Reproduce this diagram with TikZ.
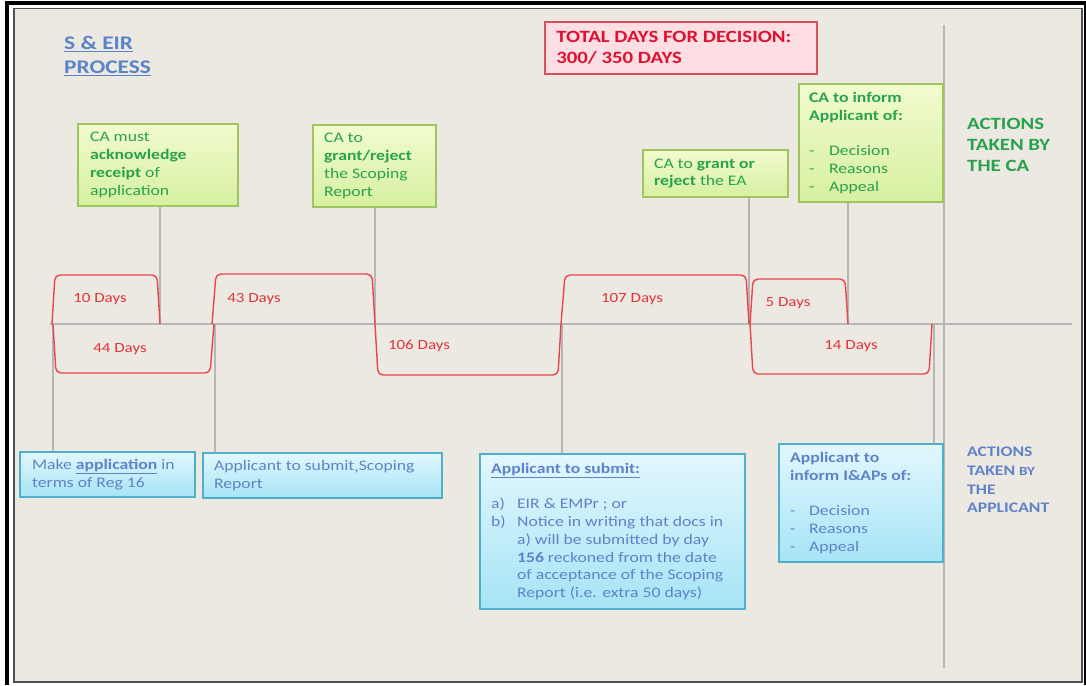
\documentclass[tikz,border=0pt]{standalone}
\usepackage{fontspec}
\usetikzlibrary{backgrounds}
\setmainfont{Carlito}[FakeStretch=1.21]
\definecolor{bg}{RGB}{236,233,226}
\definecolor{lgray}{RGB}{182,182,182}
\definecolor{rbr}{RGB}{232,70,76}
\definecolor{rtxt}{RGB}{228,52,58}
\definecolor{gborder}{RGB}{160,196,96}
\definecolor{gtop}{RGB}{242,251,206}
\definecolor{gbot}{RGB}{214,240,160}
\definecolor{gtxt}{RGB}{40,162,76}
\definecolor{bborder}{RGB}{80,176,204}
\definecolor{btop}{RGB}{226,247,253}
\definecolor{bbot}{RGB}{166,228,246}
\definecolor{btxt}{RGB}{96,130,200}
\definecolor{rfill}{RGB}{253,222,226}
\definecolor{rborder}{RGB}{214,82,92}
\definecolor{rtitle}{RGB}{226,16,48}
\definecolor{ttl}{RGB}{90,132,200}
\definecolor{frm}{RGB}{80,80,80}
\tikzset{
  gbox/.style={draw=gborder, line width=2.2pt, top color=gtop, bottom color=gbot, rectangle, inner sep=0pt},
  bbox/.style={draw=bborder, line width=2.2pt, top color=btop, bottom color=bbot, rectangle, inner sep=0pt},
  btxt/.style={anchor=west, align=left, inner sep=0pt, font=\fontsize{14.6}{17.8}\selectfont},
  vline/.style={draw=lgray, line width=2.6pt},
  brk/.style={draw=rbr, line width=1.4pt, rounded corners=5pt},
  dlab/.style={text=rtxt, inner sep=0pt, font=\fontsize{14}{16}\selectfont}
}
\begin{document}
\begin{tikzpicture}[x=1pt,y=-1pt]
\useasboundingbox (0,0) rectangle (1086,685);
\begin{scope}[on background layer]
\fill[white] (0,0) rectangle (1086,685);
\draw[black, line width=4pt] (6.5,685) -- (6.5,3.5) -- (1086,3.5);
\draw[black, line width=3pt] (1085,3.5) -- (1085,685);
\draw[fill=bg, draw=frm, line width=1.8pt] (14,8.5) rectangle (1082,682);
\end{scope}

% coordinates on the timeline
\coordinate (tl0) at (50,324);
\coordinate (tl1) at (1072,324);
\coordinate (tA) at (160,324);
\coordinate (tB) at (375,324);
\coordinate (tC) at (749,324);
\coordinate (tD) at (848,324);
\coordinate (tE) at (53,324);
\coordinate (tF) at (215,324);
\coordinate (tG) at (562,324);
\coordinate (tH) at (934,324);
\coordinate (vt) at (944,25);
\coordinate (vb) at (944,668);

% green boxes
\node[gbox, minimum width=160pt, minimum height=82pt] (g1) at (158,165) {};
\node[gbox, minimum width=123pt, minimum height=82pt] (g2) at (374.5,166) {};
\node[gbox, minimum width=145pt, minimum height=47pt] (g3) at (715.5,173.5) {};
\node[gbox, minimum width=144pt, minimum height=118pt] (g4) at (871,143) {};
% blue boxes
\node[bbox, minimum width=175pt, minimum height=45pt] (b1) at (107.5,474.5) {};
\node[bbox, minimum width=239pt, minimum height=45pt] (b2) at (322.5,475.5) {};
\node[bbox, minimum width=265pt, minimum height=155pt] (b3) at (612.5,531.5) {};
\node[bbox, minimum width=164pt, minimum height=118pt] (b4) at (861,503) {};

% lines (behind the boxes)
\begin{scope}[on background layer]
\draw[vline] (tl0) -- (tl1);
\draw[vline] (vt) -- (vb);
\draw[vline] (g1.south -| tA) -- (tA);
\draw[vline] (g2.south -| tB) -- (tB);
\draw[vline] (g3.south -| tC) -- (tC);
\draw[vline] (g4.south -| tD) -- (tD);
\draw[vline] (tE) -- (tE |- b1.north);
\draw[vline] (tF) -- (tF |- b2.north);
\draw[vline] (tG) -- (tG |- b3.north);
\draw[vline] (tH) -- (tH |- b4.north);
\end{scope}

% brackets above
\draw[brk] (52,324) -- (55,275) -- (157,275) -- (160,324);
\draw[brk] (212,324) -- (216,274) -- (372,274) -- (375,324);
\draw[brk] (561,324) -- (565,275) -- (746,275) -- (749,324);
\draw[brk] (750,324) -- (753,279) -- (845,279) -- (848,324);
% brackets below
\draw[brk] (53,324) -- (56,373) -- (210,373) -- (214,324);
\draw[brk] (375,324) -- (378,375) -- (558,375) -- (561,324);
\draw[brk] (750,324) -- (753,374) -- (929,374) -- (932,324);

\node[dlab] (d10) at (100,299) {10 Days};
\node[dlab] (d43) at (254,299) {43 Days};
\node[dlab] (d107) at (632,299) {107 Days};
\node[dlab] (d5) at (788,303) {5 Days};
\node[dlab] (d44) at (120,349) {44 Days};
\node[dlab] (d106) at (419,346) {106 Days};
\node[dlab] (d14) at (851,346) {14 Days};

% box texts
\node[btxt, text=gtxt] (g1t) at ([xshift=13pt]g1.west) {CA must\\\textbf{acknowledge}\\\textbf{receipt} of\\application};
\node[btxt, text=gtxt] (g2t) at ([xshift=12pt]g2.west) {CA to\\\textbf{grant/reject}\\the Scoping\\Report};
\node[btxt, text=gtxt] (g3t) at ([xshift=12pt]g3.west) {CA to \textbf{grant or}\\\textbf{reject} the EA};
\node[btxt, text=gtxt] (g4t) at ([xshift=11pt]g4.west) {\textbf{CA to inform}\\\textbf{Applicant of:}\\[17.8pt]\makebox[20pt][l]{-}Decision\\\makebox[20pt][l]{-}Reasons\\\makebox[20pt][l]{-}Appeal};
\node[btxt, text=btxt] (b1t) at ([xshift=13pt]b1.west) {Make \underline{\textbf{application}} in\\terms of Reg 16};
\node[btxt, text=btxt] (b2t) at ([xshift=12pt]b2.west) {Applicant to submit\raisebox{-1pt}{,}Scoping\\Report};
\node[btxt, text=btxt] (b3t) at ([xshift=12pt]b3.west) {\underline{\textbf{Applicant to submit:}}\\[17.8pt]\makebox[26pt][l]{a)}EIR \& EMPr ; or\\\makebox[26pt][l]{b)}Notice in writing that docs in\\\hspace*{26pt}a) will be submitted by day\\\hspace*{26pt}\textbf{156} reckoned from the date\\\hspace*{26pt}of acceptance of the Scoping\\\hspace*{26pt}Report (i.e. extra 50 days)};
\node[btxt, text=btxt] (b4t) at ([xshift=12pt]b4.west) {\textbf{Applicant to}\\\textbf{inform I\&APs of:}\\[17.8pt]\makebox[19pt][l]{-}Decision\\\makebox[19pt][l]{-}Reasons\\\makebox[19pt][l]{-}Appeal};

% total days box
\node[draw=rborder, fill=rfill, line width=1.8pt, minimum width=272pt, minimum height=52pt, inner sep=0pt] (tot) at (681,48) {};
\node[anchor=west, align=left, inner sep=0pt, text=rtitle, font=\bfseries\fontsize{17.2}{21}\selectfont] (tott) at ([xshift=12pt]tot.west) {TOTAL DAYS FOR DECISION:\\300/ 350 DAYS};

% title
\node[anchor=west, align=left, inner sep=0pt, text=ttl, font=\bfseries\fontsize{19.3}{24}\selectfont] (title) at (64,56) {\underline{S \& EIR}\\\underline{PROCESS}};

% side labels
\node[anchor=west, align=left, inner sep=0pt, text=gtxt, font=\bfseries\fontsize{17.2}{21}\selectfont] (lca) at (967,145) {ACTIONS\\TAKEN BY\\THE CA};
\node[anchor=west, align=left, inner sep=0pt, text=btxt, font=\bfseries\fontsize{14.6}{18.7}\selectfont] (lap) at (967,480) {ACTIONS\\TAKEN {\fontsize{12.5}{18.7}\selectfont BY}\\THE\\APPLICANT};
\end{tikzpicture}
\end{document}
